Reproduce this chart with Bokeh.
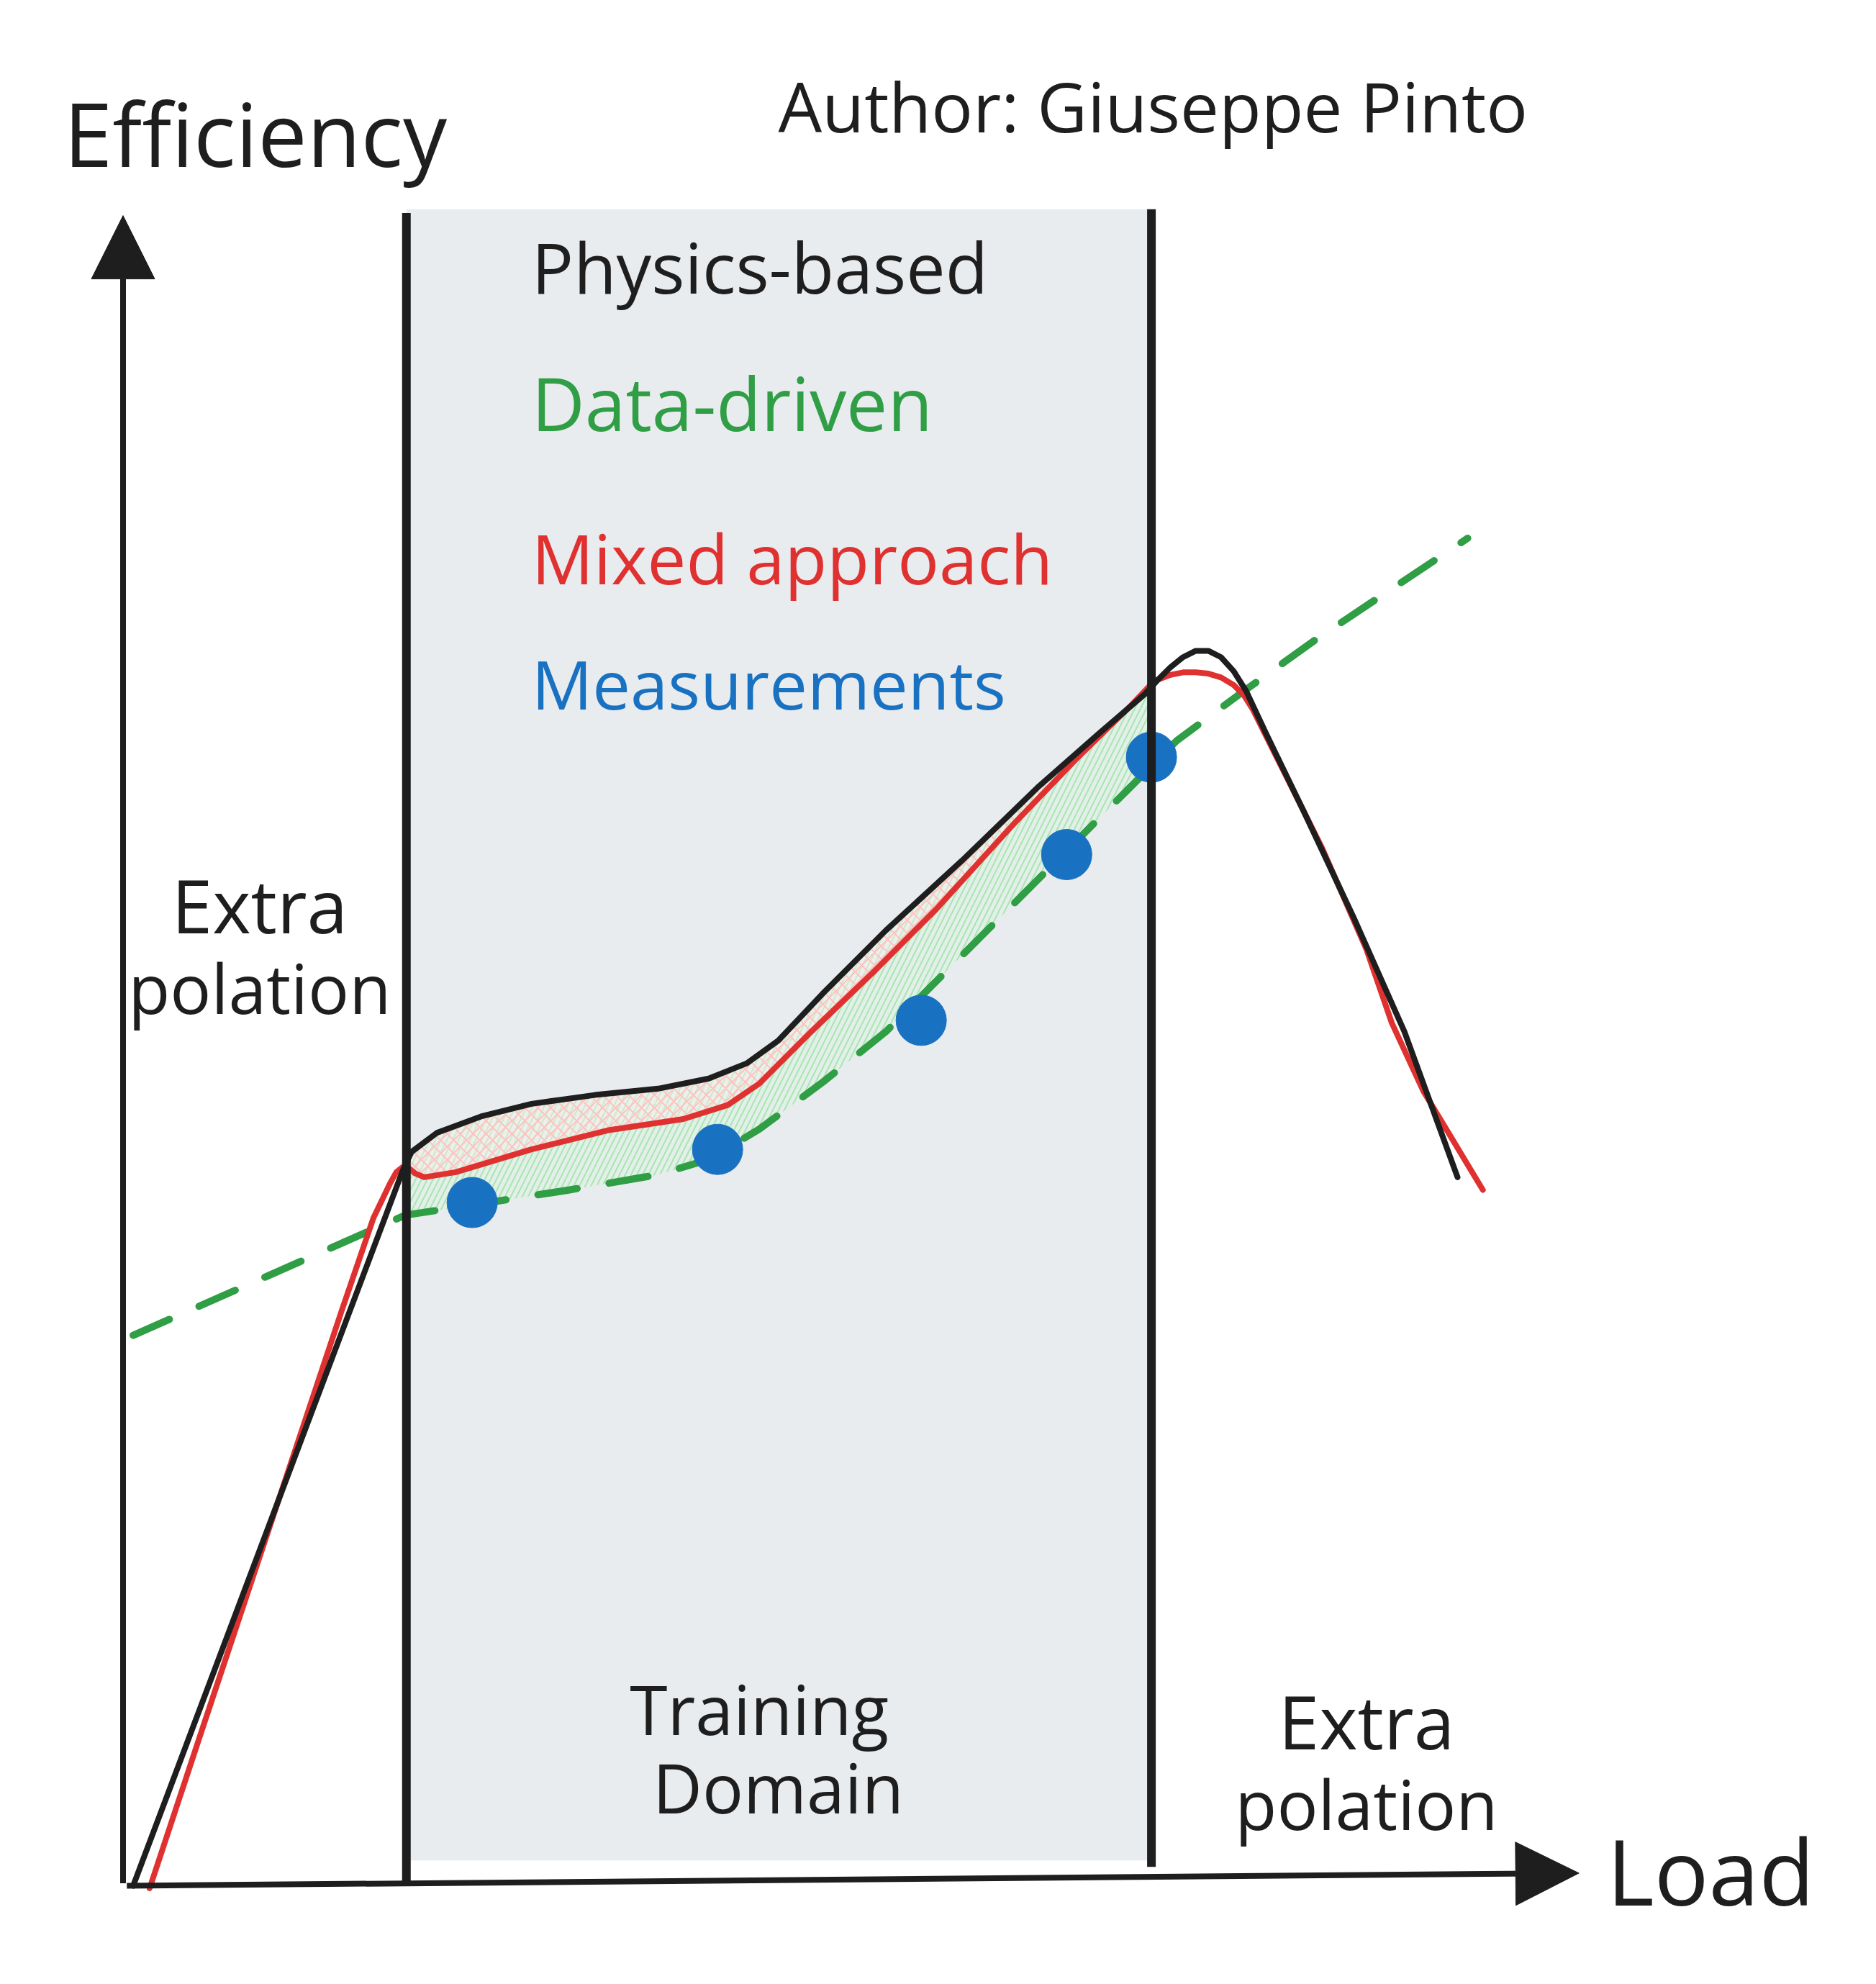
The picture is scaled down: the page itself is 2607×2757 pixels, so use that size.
import numpy as np
from bokeh.plotting import figure
from bokeh.models import Range1d, Arrow, NormalHead
from bokeh.core.properties import value
from bokeh.embed import file_html
from bokeh.resources import INLINE

# ---------------- data (Load vs Efficiency, arbitrary units) ----------------
physics_load = [0.5, 21.8, 22.5, 24.5, 28.0, 32.0, 37.0, 42.0, 46.0, 49.0, 51.5, 55.0, 60.0,
                66.0, 72.0, 77.0, 80.5, 81.5, 82.5, 83.5, 84.5, 85.5, 86.5, 87.5, 88.5, 90.0,
                93.0, 97.0, 101.0, 105.2]
physics_eff = [-0.2, 56.3, 57.8, 59.3, 60.6, 61.6, 62.3, 62.8, 63.6, 64.8, 66.6, 70.3, 75.3,
               80.8, 86.6, 91.0, 94.0, 95.1, 96.1, 96.9, 97.4, 97.4, 96.9, 95.8, 94.2, 91.0,
               84.8, 76.3, 67.3, 55.8]

mixed_load = [1.8, 6.0, 10.0, 14.0, 17.0, 19.5, 20.8, 21.3, 21.8, 22.3, 22.8, 23.5, 26.0, 32.0,
              38.0, 44.0, 47.5, 50.0, 54.0, 59.0, 64.0, 70.0, 75.0, 79.5, 81.2, 82.5, 83.5, 84.5,
              85.5, 86.5, 87.5, 88.3, 89.0, 91.0, 94.5, 98.0, 100.0, 102.5, 107.2]
mixed_eff = [-0.4, 12.3, 24.3, 36.3, 45.3, 52.6, 55.3, 56.2, 56.6, 56.5, 56.1, 55.8, 56.2, 58.0,
             59.5, 60.4, 61.5, 63.2, 67.2, 72.0, 77.0, 83.6, 88.8, 93.2, 95.0, 95.5, 95.7, 95.7,
             95.6, 95.3, 94.7, 93.9, 92.8, 88.8, 81.8, 73.8, 68.0, 62.6, 54.8]

datadriven_load = [0.5, 22.0, 27.3, 35.0, 42.0, 46.0, 50.0, 55.0, 60.0, 65.0, 70.0, 75.0, 79.0,
                   83.0, 88.0, 94.0, 100.0, 106.0]
datadriven_eff = [43.3, 52.8, 53.6, 54.8, 56.0, 57.2, 59.6, 63.3, 67.3, 72.3, 77.3, 82.3, 86.3,
                  90.3, 94.0, 98.3, 102.3, 106.3]

meas_load = [27.3, 46.7, 62.8, 74.3, 81.0]
meas_eff = [53.8, 58.0, 68.2, 81.3, 89.0]

domain_start, domain_end = 22.1, 81.0
domain_top = 132.3

legend_labels = ["Physics-based", "Data-driven", "Mixed approach", "Measurements"]
legend_eff = [127.8, 117.0, 104.8, 94.8]
legend_sizes = ["97px", "102px", "96px", "94px"]

BLACK = "#1e1e1e"
RED = "#e03131"
GREEN = "#2f9e44"
BLUE = "#1971c2"
FONT = value("Open Sans")

p = figure(width=2591, height=2741, x_range=Range1d(-10.0, 137.4), y_range=Range1d(-7.08, 148.81),
           output_backend="svg", toolbar_location=None, min_border=0,
           x_axis_type=None, y_axis_type=None)
p.grid.visible = False
p.outline_line_color = None
p.background_fill_color = "white"

# training domain shading
p.quad(left=[domain_start], right=[domain_end], bottom=[1.8], top=[domain_top],
       fill_color="#e9ecef", line_color=None)

# hatched areas inside the domain
grid = np.linspace(domain_start + 0.2, domain_end - 0.1, 160)
upper = np.interp(grid, physics_load, physics_eff)
mid = np.interp(grid, mixed_load, mixed_eff)
lower = np.interp(grid, datadriven_load, datadriven_eff)
p.varea(x=grid, y1=lower, y2=upper, fill_color="#d3f9d8", fill_alpha=0.25,
        hatch_pattern="/", hatch_color="#a8e6b0", hatch_weight=2, hatch_scale=16, hatch_alpha=1.0)
p.varea(x=grid, y1=mid, y2=upper, fill_color="#fff0f0", fill_alpha=0.4,
        hatch_pattern="x", hatch_color="#ffc2c2", hatch_weight=2, hatch_scale=18, hatch_alpha=1.0)

# curves
p.line(datadriven_load, datadriven_eff, line_color=GREEN, line_width=10, line_dash="55 45",
       line_cap="round")
p.line(mixed_load, mixed_eff, line_color=RED, line_width=8, line_join="round", line_cap="round")
p.line(physics_load, physics_eff, line_color=BLACK, line_width=8, line_join="round", line_cap="round")

# measurements
p.scatter(meas_load, meas_eff, size=70, fill_color=BLUE, line_color=BLUE)

# domain boundaries
p.segment(x0=[domain_start, domain_end], y0=[-0.2, 1.3], x1=[domain_start, domain_end],
          y1=[132.0, domain_top], line_color=BLACK, line_width=12)

# axes arrows
p.add_layout(Arrow(end=NormalHead(size=88, fill_color=BLACK, line_color=BLACK),
                   x_start=-0.3, y_start=0.0, x_end=-0.3, y_end=131.8,
                   line_color=BLACK, line_width=8))
p.add_layout(Arrow(end=NormalHead(size=88, fill_color=BLACK, line_color=BLACK),
                   x_start=0.0, y_start=-0.2, x_end=114.8, y_end=0.8,
                   line_color=BLACK, line_width=8))

# texts
p.text(x=[-5.0], y=[138.3], text=["Efficiency"], text_font=FONT, text_font_size=value("122px"),
       text_color=BLACK, text_align="left", text_baseline="middle")
p.text(x=[51.5], y=[140.5], text=["Author: Giuseppe Pinto"], text_font=FONT,
       text_font_size=value("96px"), text_color=BLACK, text_align="left", text_baseline="middle")
for lab, ey, col, fs in zip(legend_labels, legend_eff, [BLACK, GREEN, RED, BLUE], legend_sizes):
    p.text(x=[32.0], y=[ey], text=[lab], text_font=FONT, text_font_size=value(fs),
           text_color=col, text_align="left", text_baseline="middle")
p.text(x=[10.5], y=[77.3], text=["Extra"], text_font=FONT,
       text_font_size=value("102px"), text_color=BLACK, text_align="center", text_baseline="middle")
p.text(x=[10.5], y=[70.8], text=["polation"], text_font=FONT,
       text_font_size=value("95px"), text_color=BLACK, text_align="center", text_baseline="middle")
p.text(x=[50.0, 51.5], y=[13.8, 7.6], text=["Training", "Domain"], text_font=FONT,
       text_font_size=value("95px"), text_color=BLACK, text_align="center", text_baseline="middle")
p.text(x=[98.0], y=[12.8], text=["Extra"], text_font=FONT,
       text_font_size=value("102px"), text_color=BLACK, text_align="center", text_baseline="middle")
p.text(x=[98.0], y=[6.3], text=["polation"], text_font=FONT,
       text_font_size=value("95px"), text_color=BLACK, text_align="center", text_baseline="middle")
p.text(x=[117.0], y=[1.0], text=["Load"], text_font=FONT, text_font_size=value("126px"),
       text_color=BLACK, text_align="left", text_baseline="middle")

open("out.html", "w").write(file_html(p, INLINE))
